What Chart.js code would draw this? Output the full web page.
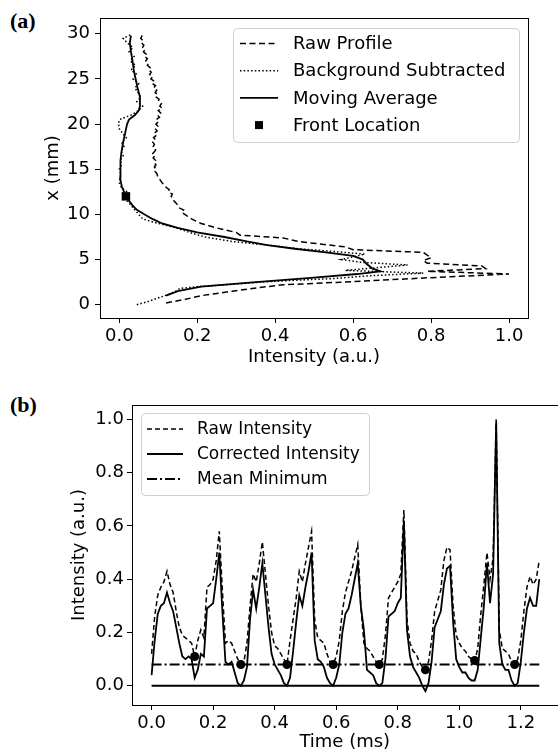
<!DOCTYPE html>
<html>
<head>
<meta charset="utf-8">
<script src="https://cdn.jsdelivr.net/npm/chart.js@4.4.1/dist/chart.umd.min.js"></script>
<style>
  html, body { margin: 0; padding: 0; background: #fff; overflow: hidden; }
  body { width: 558px; height: 753px; position: relative; }
  canvas { position: absolute; left: 0; }
  #chartA { top: 0; }
  #chartB { top: 370px; }
  .tag { position: absolute; font: bold 22px "Liberation Serif", serif; line-height: 1; }
</style>
</head>
<body>
<div class="tag" style="left:10px;top:10px">(a)</div>
<div class="tag" style="left:10px;top:394px">(b)</div>
<canvas id="chartA" width="558" height="370"></canvas>
<canvas id="chartB" width="562" height="383"></canvas>
<script>
// ---- panel (a): intensity profile vs position x (mm) ----
const rawPos = [0.2, 0.6, 1.0, 1.5, 1.9, 2.2, 2.6, 3.0, 3.4, 3.7,
  4.0, 4.3, 4.6, 4.9, 5.2, 5.5, 5.8, 6.1, 6.4, 6.7,
  7.0, 7.4, 7.7, 8.0, 8.5, 9.0, 9.5,
  10.0, 10.25, 10.5, 10.75, 11.0, 11.25, 11.5, 11.75, 12.0, 12.25,
  12.5, 12.75, 13.0, 13.25, 13.5, 13.75, 14.0, 14.25, 14.5, 14.75,
  15.0, 15.25, 15.5, 15.75, 16.0, 16.25, 16.5, 16.75, 17.0, 17.25,
  17.5, 17.75, 18.0, 18.25, 18.5, 18.75, 19.0, 19.25, 19.5, 19.75,
  20.0, 20.25, 20.5, 20.75, 21.0, 21.25, 21.5, 21.75, 22.0, 22.25,
  22.5, 22.75, 23.0, 23.25, 23.5, 23.75, 24.0, 24.25, 24.5, 24.75,
  25.0, 25.25, 25.5, 25.75, 26.0, 26.25, 26.5, 26.75, 27.0, 27.25,
  27.5, 27.75, 28.0, 28.25, 28.5, 28.75, 29.0, 29.25, 29.5, 29.75, 30.1];
const rawInt = [0.12, 0.17, 0.21, 0.29, 0.36, 0.42, 0.62, 0.80, 1.00, 0.79,
  0.94, 0.93, 0.79, 0.78, 0.80, 0.79, 0.78, 0.60, 0.58, 0.52,
  0.46, 0.42, 0.31, 0.30, 0.25, 0.21, 0.185,
  0.168, 0.160, 0.165, 0.152, 0.150, 0.146, 0.140, 0.138, 0.133, 0.136,
  0.126, 0.128, 0.120, 0.116, 0.110, 0.106, 0.102, 0.098, 0.097, 0.092,
  0.095, 0.090, 0.094, 0.089, 0.093, 0.087, 0.092, 0.086, 0.091, 0.094,
  0.087, 0.090, 0.086, 0.093, 0.088, 0.095, 0.090, 0.097, 0.092, 0.099,
  0.094, 0.100, 0.095, 0.103, 0.098, 0.106, 0.100, 0.110, 0.104, 0.108,
  0.100, 0.102, 0.095, 0.099, 0.092, 0.096, 0.088, 0.093, 0.085, 0.090,
  0.081, 0.086, 0.078, 0.082, 0.075, 0.079, 0.072, 0.075, 0.068, 0.072,
  0.065, 0.069, 0.062, 0.066, 0.060, 0.063, 0.057, 0.061, 0.055, 0.058, 0.052];

const bgPos = [0.0, 0.3, 0.6, 0.9, 1.2, 1.5, 1.8, 2.0, 2.3, 2.6,
  2.9, 3.2, 3.5, 3.8, 4.1, 4.4, 4.7, 5.0, 5.3, 5.6,
  5.9, 6.2, 6.6, 7.0, 7.5, 8.0, 8.5, 9.0, 9.5, 10.0,
  10.5, 11.0, 11.5, 12.0, 12.5, 13.0, 13.5, 14.0, 14.5, 15.0,
  15.5, 16.0, 16.5, 17.0, 17.5, 18.0, 18.5, 19.0, 19.5, 20.0,
  20.5, 21.0, 21.5, 22.0, 22.5, 23.0, 23.5, 24.0, 24.5, 25.0,
  25.5, 26.0, 26.5, 27.0, 27.5, 28.0, 28.5, 29.0, 29.5, 29.9];
const bgInt = [0.045, 0.07, 0.09, 0.11, 0.13, 0.145, 0.155, 0.20, 0.30, 0.40,
  0.55, 0.64, 0.78, 0.58, 0.66, 0.74, 0.62, 0.57, 0.60, 0.63,
  0.55, 0.46, 0.38, 0.29, 0.22, 0.18, 0.147, 0.10, 0.06, 0.05,
  0.04, 0.03, 0.02, 0.015, 0.02, 0.005, 0.0, 0.002, 0.004, 0.0,
  0.006, 0.002, 0.01, 0.004, 0.012, 0.006, 0.018, 0.008, 0.0, -0.002,
  0.0, 0.03, 0.05, 0.06, 0.045, 0.055, 0.048, 0.04, 0.05, 0.035,
  0.045, 0.03, 0.042, 0.028, 0.038, 0.025, 0.035, 0.02, 0.01, 0.03];

const avgPos = [1.0, 1.5, 2.0, 2.5, 3.0, 3.4, 3.7, 4.0, 4.5, 5.0,
  5.4, 5.8, 6.2, 6.6, 7.0, 7.5, 8.0, 8.5, 9.0, 9.5,
  10.0, 10.5, 11.0, 11.5, 12.0, 13.0, 14.0, 15.0, 16.0, 17.0,
  18.0, 19.0, 20.0, 20.5, 21.0, 21.5, 22.0, 23.0, 24.0, 25.0,
  26.0, 27.0, 28.0, 29.0, 29.8];
const avgInt = [0.12, 0.15, 0.21, 0.35, 0.50, 0.61, 0.67, 0.65, 0.635, 0.625,
  0.60, 0.53, 0.45, 0.38, 0.33, 0.27, 0.20, 0.15, 0.11, 0.085,
  0.065, 0.045, 0.034, 0.025, 0.017, 0.007, 0.002, 0.002, 0.004, 0.006,
  0.01, 0.015, 0.02, 0.025, 0.04, 0.05, 0.053, 0.053, 0.047, 0.042,
  0.037, 0.034, 0.03, 0.027, 0.03];

const frontPos = [12.0];
const frontInt = [0.017];

const ticksAx = [0, 0.2, 0.4, 0.6, 0.8, 1.0];
const ticksAy = [0, 5, 10, 15, 20, 25, 30];

// ---- panel (b): intensity vs time (ms) ----
const timeMs = [0.00, 0.01, 0.02, 0.03, 0.04, 0.05, 0.06, 0.07, 0.08, 0.09,
  0.10, 0.11, 0.12, 0.13, 0.14, 0.15, 0.16, 0.17, 0.18, 0.19,
  0.20, 0.21, 0.22, 0.23, 0.24, 0.25, 0.26, 0.27, 0.28, 0.29,
  0.30, 0.31, 0.32, 0.33, 0.34, 0.35, 0.36, 0.37, 0.38, 0.39,
  0.40, 0.41, 0.42, 0.43, 0.44, 0.45, 0.46, 0.47, 0.48, 0.49,
  0.50, 0.51, 0.52, 0.53, 0.54, 0.55, 0.56, 0.57, 0.58, 0.59,
  0.60, 0.61, 0.62, 0.63, 0.64, 0.65, 0.66, 0.67, 0.68, 0.69,
  0.70, 0.71, 0.72, 0.73, 0.74, 0.75, 0.76, 0.77, 0.78, 0.79,
  0.80, 0.81, 0.82, 0.83, 0.84, 0.85, 0.86, 0.87, 0.88, 0.89,
  0.90, 0.91, 0.92, 0.93, 0.94, 0.95, 0.96, 0.97, 0.98, 0.99,
  1.00, 1.01, 1.02, 1.03, 1.04, 1.05, 1.06, 1.07, 1.08, 1.09,
  1.10, 1.11, 1.12, 1.13, 1.14, 1.15, 1.16, 1.17, 1.18, 1.19,
  1.20, 1.21, 1.22, 1.23, 1.24, 1.25, 1.26];
const rawIntensity = [0.12, 0.26, 0.34, 0.37, 0.39, 0.43, 0.38, 0.35, 0.28, 0.22,
  0.19, 0.18, 0.17, 0.16, 0.11, 0.17, 0.21, 0.18, 0.37, 0.38,
  0.40, 0.47, 0.58, 0.36, 0.16, 0.17, 0.16, 0.13, 0.10, 0.08,
  0.09, 0.16, 0.30, 0.42, 0.39, 0.46, 0.54, 0.42, 0.30, 0.20,
  0.15, 0.14, 0.12, 0.10, 0.08, 0.17, 0.25, 0.33, 0.43, 0.39,
  0.46, 0.52, 0.58, 0.25, 0.18, 0.17, 0.16, 0.12, 0.09, 0.08,
  0.11, 0.17, 0.28, 0.35, 0.39, 0.43, 0.48, 0.53, 0.30, 0.16,
  0.14, 0.13, 0.11, 0.09, 0.08, 0.10, 0.19, 0.33, 0.35, 0.37,
  0.39, 0.42, 0.66, 0.25, 0.16, 0.13, 0.12, 0.09, 0.07, 0.06,
  0.09, 0.17, 0.28, 0.32, 0.36, 0.47, 0.52, 0.51, 0.30, 0.19,
  0.16, 0.14, 0.13, 0.11, 0.10, 0.09, 0.14, 0.27, 0.38, 0.50,
  0.40, 0.48, 1.00, 0.21, 0.14, 0.13, 0.12, 0.09, 0.08, 0.10,
  0.17, 0.28, 0.37, 0.41, 0.38, 0.40, 0.47];
const corrIntensity = [0.04, 0.17, 0.27, 0.30, 0.31, 0.35, 0.31, 0.28, 0.22, 0.16,
  0.11, 0.10, 0.11, 0.10, 0.03, 0.06, 0.12, 0.11, 0.29, 0.30,
  0.31, 0.40, 0.50, 0.28, 0.09, 0.08, 0.09, 0.05, 0.01, 0.00,
  0.02, 0.07, 0.25, 0.36, 0.29, 0.37, 0.46, 0.34, 0.22, 0.12,
  0.08, 0.06, 0.04, 0.01, 0.00, 0.03, 0.13, 0.24, 0.34, 0.30,
  0.37, 0.43, 0.50, 0.17, 0.10, 0.09, 0.07, 0.03, 0.01, 0.00,
  0.03, 0.08, 0.20, 0.27, 0.29, 0.34, 0.40, 0.46, 0.30, 0.21,
  0.06, 0.05, 0.04, 0.01, 0.00, 0.01, 0.10, 0.26, 0.27, 0.28,
  0.31, 0.33, 0.62, 0.21, 0.11, 0.07, 0.05, 0.03, 0.00, -0.02,
  0.01, 0.09, 0.22, 0.25, 0.28, 0.38, 0.44, 0.45, 0.24, 0.10,
  0.07, 0.05, 0.05, 0.03, 0.02, 0.02, 0.06, 0.18, 0.30, 0.46,
  0.31, 0.42, 0.99, 0.16, 0.08, 0.06, 0.06, 0.02, 0.00, 0.01,
  0.09, 0.20, 0.29, 0.33, 0.30, 0.30, 0.40];
const minTimes = [0.14, 0.29, 0.44, 0.59, 0.74, 0.89, 1.05, 1.18];
const minValues = [0.11, 0.08, 0.08, 0.08, 0.08, 0.06, 0.095, 0.08];
const spanTimes = [0, 1.26];
const meanMinimum = [0.08, 0.08];
const zeroLevel = [0, 0];

const ticksBx = [0, 0.2, 0.4, 0.6, 0.8, 1.0, 1.2];
const ticksBy = [0, 0.2, 0.4, 0.6, 0.8, 1.0];

function pairs(xs, ys) {
  return xs.map((x, i) => ({ x: x, y: ys[i] }));
}

const FONT = 'DejaVu Sans';

// box around the plot area (matplotlib style spines)
const frame = {
  id: 'frame',
  afterDatasetsDraw(chart) {
    const { ctx, chartArea: a } = chart;
    ctx.save();
    ctx.strokeStyle = '#000';
    ctx.lineWidth = 1;
    ctx.strokeRect(Math.round(a.left) + 0.5, Math.round(a.top) + 0.5,
      Math.round(a.right - a.left), Math.round(a.bottom - a.top));
    ctx.restore();
  }
};

// legend drawn inside the axes, with a light rounded box
const boxLegend = {
  id: 'boxLegend',
  afterDatasetsDraw(chart, args, o) {
    const ctx = chart.ctx;
    ctx.save();
    ctx.beginPath();
    ctx.roundRect(o.x + 0.5, o.y + 0.5, o.w, o.h, 4);
    ctx.fillStyle = 'rgba(255,255,255,0.8)';
    ctx.fill();
    ctx.strokeStyle = '#d0d0d0';
    ctx.lineWidth = 1;
    ctx.stroke();
    ctx.font = o.size + 'px "' + FONT + '"';
    ctx.textBaseline = 'middle';
    let i = 0;
    chart.data.datasets.forEach(ds => {
      if (ds.inLegend === false) return;
      const y = o.y0 + i * o.dy;
      ctx.strokeStyle = '#000';
      ctx.fillStyle = '#000';
      if (ds.showLine) {
        ctx.setLineDash(ds.borderDash || []);
        ctx.lineWidth = ds.borderWidth;
        ctx.beginPath();
        ctx.moveTo(o.sx0, y);
        ctx.lineTo(o.sx1, y);
        ctx.stroke();
        ctx.setLineDash([]);
      } else {
        const s = 4;
        const cx = (o.sx0 + o.sx1) / 2;
        ctx.fillRect(cx - s, y - s, 2 * s, 2 * s);
      }
      ctx.fillText(ds.label, o.tx, y + 1);
      i++;
    });
    ctx.restore();
  }
};

function axis(o) {
  return {
    type: 'linear',
    min: o.min,
    max: o.max,
    afterBuildTicks: s => { s.ticks = o.ticks.map(v => ({ value: v })); },
    afterFit: s => {
      if (o.width) s.width = o.width;
      if (o.height) s.height = o.height;
    },
    ticks: {
      font: { family: FONT, size: 18 },
      color: '#000',
      padding: o.pad,
      maxRotation: 0,
      autoSkip: false,
      callback: o.fmt
    },
    grid: { drawOnChartArea: false, drawTicks: true, tickLength: 5, tickColor: '#000', tickWidth: 1 },
    border: { display: false },
    title: {
      display: true,
      text: o.title,
      color: '#000',
      font: { family: FONT, size: 18 },
      padding: o.titlePad
    }
  };
}

const lineBase = { showLine: true, pointRadius: 0, borderColor: '#000', backgroundColor: '#000', tension: 0, fill: false };

new Chart(document.getElementById('chartA'), {
  type: 'scatter',
  data: {
    datasets: [
      Object.assign({ label: 'Raw Profile', data: pairs(rawInt, rawPos), borderWidth: 1.5, borderDash: [6, 3.5] }, lineBase),
      Object.assign({ label: 'Background Subtracted', data: pairs(bgInt, bgPos), borderWidth: 1.5, borderDash: [1.5, 2.2] }, lineBase),
      Object.assign({ label: 'Moving Average', data: pairs(avgInt, avgPos), borderWidth: 1.8 }, lineBase),
      { label: 'Front Location', data: pairs(frontInt, frontPos), showLine: false, pointStyle: 'rect',
        pointRadius: 6, backgroundColor: '#000', borderColor: '#000', borderWidth: 0 }
    ]
  },
  options: {
    responsive: false,
    animation: false,
    layout: { padding: { top: 18, right: 30, left: 0, bottom: 0 } },
    scales: {
      x: axis({ min: -0.0495, max: 1.0487, ticks: ticksAx, height: 52, pad: 3,
        fmt: v => v.toFixed(1), title: 'Intensity (a.u.)', titlePad: { top: 0, bottom: 2 } }),
      y: axis({ min: -1.47, max: 31.75, ticks: ticksAy, width: 100, pad: 5,
        fmt: v => String(v), title: 'x (mm)', titlePad: { top: 43, bottom: 0 } })
    },
    plugins: {
      legend: { display: false },
      tooltip: { enabled: false },
      boxLegend: { x: 233, y: 28, w: 286, h: 114, y0: 43.5, dy: 27.2, sx0: 240, sx1: 278, tx: 293, size: 18 }
    }
  },
  plugins: [frame, boxLegend]
});

new Chart(document.getElementById('chartB'), {
  type: 'scatter',
  data: {
    datasets: [
      Object.assign({ label: 'Raw Intensity', data: pairs(timeMs, rawIntensity), borderWidth: 1.5, borderDash: [5, 3] }, lineBase),
      Object.assign({ label: 'Corrected Intensity', data: pairs(timeMs, corrIntensity), borderWidth: 1.8 }, lineBase),
      Object.assign({ label: 'Mean Minimum', data: pairs(spanTimes, meanMinimum), borderWidth: 1.8, borderDash: [10, 3, 2, 3] }, lineBase),
      Object.assign({ label: 'zero', inLegend: false, data: pairs(spanTimes, zeroLevel), borderWidth: 2 }, lineBase),
      { label: 'minima', inLegend: false, data: pairs(minTimes, minValues), showLine: false, pointStyle: 'circle',
        pointRadius: 4.5, backgroundColor: '#000', borderColor: '#000', borderWidth: 0 }
    ]
  },
  options: {
    responsive: false,
    animation: false,
    layout: { padding: { top: 35, right: 2, left: 0, bottom: 0 } },
    scales: {
      x: axis({ min: -0.0637, max: 1.3193, ticks: ticksBx, height: 48, pad: 3,
        fmt: v => v.toFixed(1), title: 'Time (ms)', titlePad: { top: 0, bottom: 0 } }),
      y: axis({ min: -0.072, max: 1.054, ticks: ticksBy, width: 132, pad: 3,
        fmt: v => v.toFixed(1), title: 'Intensity (a.u.)', titlePad: { top: 69, bottom: 0 } })
    },
    plugins: {
      legend: { display: false },
      tooltip: { enabled: false },
      boxLegend: { x: 141, y: 43, w: 228, h: 82, y0: 59, dy: 25, sx0: 147, sx1: 183, tx: 197, size: 17 }
    }
  },
  plugins: [frame, boxLegend]
});
</script>
</body>
</html>
